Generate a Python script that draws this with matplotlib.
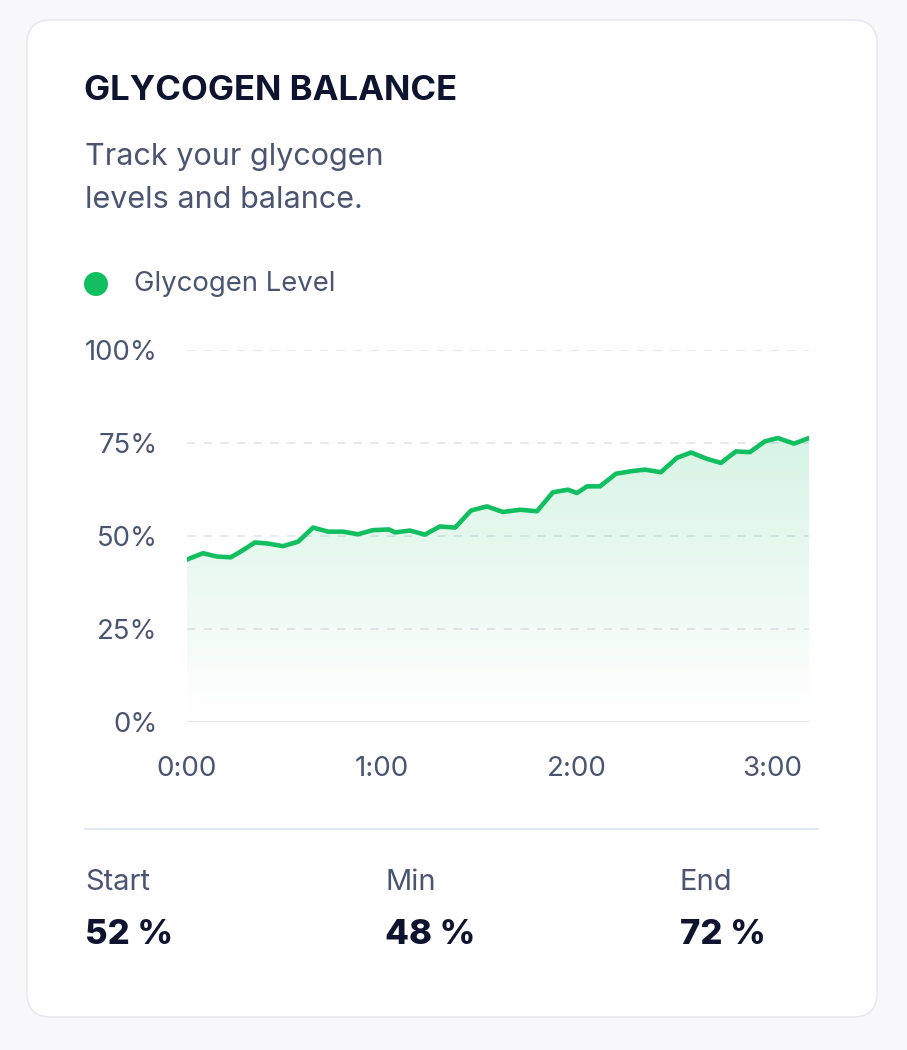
import numpy as np
import matplotlib
matplotlib.use('Agg')
from matplotlib import pyplot as plt
from matplotlib.patches import FancyBboxPatch, Circle
from matplotlib.transforms import IdentityTransform

# data (minutes since start, glycogen %)
minutos = [0, 4.9, 9.2, 13.5, 17.2, 20.9, 24.9, 29.5, 34.2, 38.8, 43.4, 48.0, 52.6, 57.2,
           62.2, 64.0, 68.6, 73.2, 77.8, 82.5, 87.4, 92.3, 97.2, 102.5, 107.7, 112.6,
           117.2, 120.0, 123.1, 127.1, 132.0, 136.9, 140.9, 145.8, 150.8, 155.1, 160.0,
           164.3, 168.9, 173.2, 177.8, 181.8, 186.8, 191.4]
nivel = [43.6, 45.3, 44.4, 44.2, 46.1, 48.2, 47.9, 47.2, 48.4, 52.2, 51.1, 51.1, 50.4, 51.5,
         51.7, 50.9, 51.4, 50.3, 52.5, 52.2, 56.8, 57.9, 56.4, 57.0, 56.6, 61.7,
         62.4, 61.5, 63.3, 63.3, 66.7, 67.4, 67.8, 67.1, 71.0, 72.4, 70.7,
         69.6, 72.7, 72.5, 75.4, 76.3, 74.8, 76.3]

y_ticks = [0, 25, 50, 75, 100]
y_labels = ['0%', '25%', '50%', '75%', '100%']
x_ticks = [0, 60, 120, 180]
x_labels = ['0:00', '1:00', '2:00', '3:00']

stats_nomes = ['Start', 'Min', 'End']
stats_valores = ['52 %', '48 %', '72 %']

verde = '#12bf60'
escuro = '#0e1330'
cinza = '#4b5572'
plt.rcParams['font.family'] = ['Inter', 'DejaVu Sans']

W, H = 907, 1050
fig = plt.figure(figsize=(W / 100, H / 100), dpi=100)
fig.patch.set_facecolor('#f8f8fa')


def fx(x):
    return x / W


def fy(y):
    return 1 - y / H


# card
card = FancyBboxPatch((27, H - 1017), 850, 997, boxstyle='round,pad=0,rounding_size=24',
                      transform=IdentityTransform(), facecolor='#ffffff',
                      edgecolor='#e9e9ef', linewidth=1.2, zorder=-5)
fig.patches.append(card)

fig.text(fx(84), fy(91), 'GLYCOGEN BALANCE', fontsize=25, fontweight='bold',
         color=escuro, va='center', ha='left')
fig.text(fx(85), fy(157), 'Track your glycogen', fontsize=22, color=cinza,
         va='center', ha='left')
fig.text(fx(85), fy(200), 'levels and balance.', fontsize=22, color=cinza,
         va='center', ha='left')

fig.patches.append(Circle((96, H - 284), 12, transform=IdentityTransform(),
                          facecolor=verde, edgecolor='none'))
fig.text(fx(134), fy(284), 'Glycogen Level', fontsize=19.8, color=cinza,
         va='center', ha='left')

# chart
ax = fig.add_axes([fx(187), fy(721.5), fx(809) - fx(187), (721.5 - 350) / H])
ax.set_zorder(3)
ax.set_facecolor('none')
ax.set_xlim(0, minutos[-1])
ax.set_ylim(0, 100)

for v in y_ticks[1:]:
    ax.axhline(v, color='#e3e5ef', linewidth=1.2, linestyle=(0, (5, 5)), zorder=0)
ax.axhline(0, color='#e3e5ef', linewidth=1.5, zorder=0)

grad = np.linspace(0.0, 0.22, 256).reshape(-1, 1)
cores = np.zeros((256, 1, 4))
cores[..., 0] = 0x12 / 255
cores[..., 1] = 0xbf / 255
cores[..., 2] = 0x60 / 255
cores[..., 3] = grad
img = ax.imshow(cores, extent=[0, minutos[-1], 0, 100], origin='lower', aspect='auto', zorder=1)
area = ax.fill_between(minutos, nivel, 0, color='none')
img.set_clip_path(area.get_paths()[0], transform=ax.transData)

ax.plot(minutos, nivel, color=verde, linewidth=3.3, solid_joinstyle='round',
        solid_capstyle='round', zorder=3)

ax.set_yticks(y_ticks)
ax.set_yticklabels(y_labels)
ax.set_xticks(x_ticks)
ax.set_xticklabels(x_labels)
ax.tick_params(axis='y', length=0, pad=21, labelsize=19.8, labelcolor=cinza)
ax.tick_params(axis='x', length=0, pad=25, labelsize=20, labelcolor=cinza)
ax.get_xticklabels()[0].set_x(1.5)
for s in ax.spines.values():
    s.set_visible(False)

# separator + stats
fig.add_artist(plt.Line2D([fx(85), fx(818)], [fy(829), fy(829)], color='#e6e8ef', linewidth=1.5))

for nome, valor, x in zip(stats_nomes, stats_valores, [85, 385, 680]):
    fig.text(fx(x), fy(883), nome, fontsize=21, color=cinza, va='center', ha='left')
    fig.text(fx(x), fy(935), valor, fontsize=25, fontweight='heavy', color=escuro,
             va='center', ha='left')

fig.savefig('out.png', dpi=100, facecolor=fig.get_facecolor())
